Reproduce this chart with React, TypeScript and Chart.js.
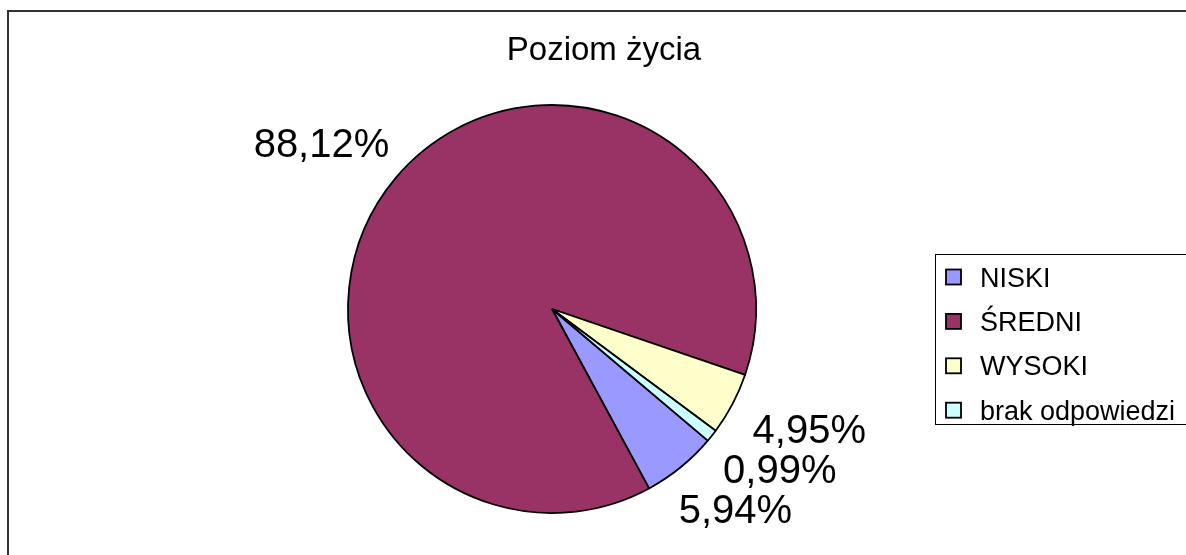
import React, { useEffect, useRef } from "react";
import { Chart, registerables } from "chart.js";

Chart.register(...registerables);

const chartTitle = "Poziom życia";
const categories = ["NISKI", "ŚREDNI", "WYSOKI", "brak odpowiedzi"];
const counts = [6, 89, 5, 1];
const sliceColors = ["#9999FF", "#993366", "#FFFFCC", "#CCFFFF"];

const FONT = '"Liberation Sans", Arial, Helvetica, sans-serif';
const CANVAS_W = 1250;
const CANVAS_H = 600;

const total = counts.reduce((a, b) => a + b, 0);
const percentLabels = counts.map(
  (v) => ((v / total) * 100).toFixed(2).replace(".", ",") + "%"
);

const decorPlugin = {
  id: "excelDecor",
  beforeDraw(chart: any) {
    const ctx = chart.ctx;
    ctx.save();
    ctx.fillStyle = "#ffffff";
    ctx.fillRect(0, 0, chart.width, chart.height);
    // outer chart frame
    ctx.strokeStyle = "#333333";
    ctx.lineWidth = 2;
    ctx.strokeRect(8, 11, 1400, 700);
    ctx.restore();
  },
  afterDraw(chart: any) {
    const ctx = chart.ctx;
    ctx.save();
    // title
    ctx.fillStyle = "#000000";
    ctx.font = `33px ${FONT}`;
    ctx.textAlign = "center";
    ctx.textBaseline = "alphabetic";
    ctx.fillText(chartTitle, 604, 60);

    // data labels (outside end)
    const meta = chart.getDatasetMeta(0);
    const labelSize = 40;
    ctx.font = `${labelSize}px ${FONT}`;
    const gap = 30;
    const boxH = labelSize * 1.15;
    meta.data.forEach((arc: any, i: number) => {
      const p = arc.getProps(["x", "y", "startAngle", "endAngle", "outerRadius"], true);
      const mid = (p.startAngle + p.endAngle) / 2;
      const c = Math.cos(mid);
      const s = Math.sin(mid);
      const px = p.x + (p.outerRadius + gap) * c;
      const py = p.y + (p.outerRadius + gap) * s;
      const text = percentLabels[i];
      const w = ctx.measureText(text).width;
      const cx = px + (c * w) / 2;
      const cy = py + (s * boxH) / 2;
      ctx.textAlign = "center";
      ctx.fillText(text, cx, cy + labelSize * 0.358);
    });

    // legend
    const lx = 935;
    const ly = 254;
    const lh = 170;
    ctx.strokeStyle = "#000000";
    ctx.lineWidth = 1;
    ctx.strokeRect(lx + 0.5, ly + 0.5, 600, lh);
    const legendSize = 27;
    ctx.font = `${legendSize}px ${FONT}`;
    ctx.textAlign = "left";
    const rowStart = 277;
    const rowStep = 44.4;
    categories.forEach((name, i) => {
      const yc = rowStart + i * rowStep;
      ctx.fillStyle = sliceColors[i];
      ctx.fillRect(946, yc - 7.5, 15, 15);
      ctx.strokeStyle = "#000000";
      ctx.lineWidth = 1.8;
      ctx.strokeRect(946, yc - 7.5, 15, 15);
      ctx.fillStyle = "#000000";
      ctx.fillText(name, 980, yc + legendSize * 0.358);
    });
    ctx.restore();
  },
};

export default function App() {
  const ref = useRef<HTMLCanvasElement | null>(null);

  useEffect(() => {
    if (!ref.current) return;
    const chart = new Chart(ref.current, {
      type: "pie",
      data: {
        labels: categories,
        datasets: [
          {
            data: counts,
            backgroundColor: sliceColors,
            borderColor: "#000000",
            borderWidth: 1.8,
            rotation: 130.2,
            radius: 204,
          } as any,
        ],
      },
      options: {
        responsive: false,
        animation: false,
        devicePixelRatio: 1,
        rotation: 130.2,
        layout: { padding: { left: 300, right: 446, top: 60, bottom: 42 } },
        plugins: {
          legend: { display: false },
          tooltip: { enabled: false },
          title: { display: false },
        },
      } as any,
      plugins: [decorPlugin],
    });
    return () => chart.destroy();
  }, []);

  return (
    <div
      style={{
        position: "fixed",
        left: 0,
        top: 0,
        width: 1186,
        height: 555,
        overflow: "hidden",
        background: "#fff",
      }}
    >
      <canvas
        ref={ref}
        width={CANVAS_W}
        height={CANVAS_H}
        style={{ position: "absolute", left: 0, top: 0, width: CANVAS_W, height: CANVAS_H }}
      />
    </div>
  );
}
